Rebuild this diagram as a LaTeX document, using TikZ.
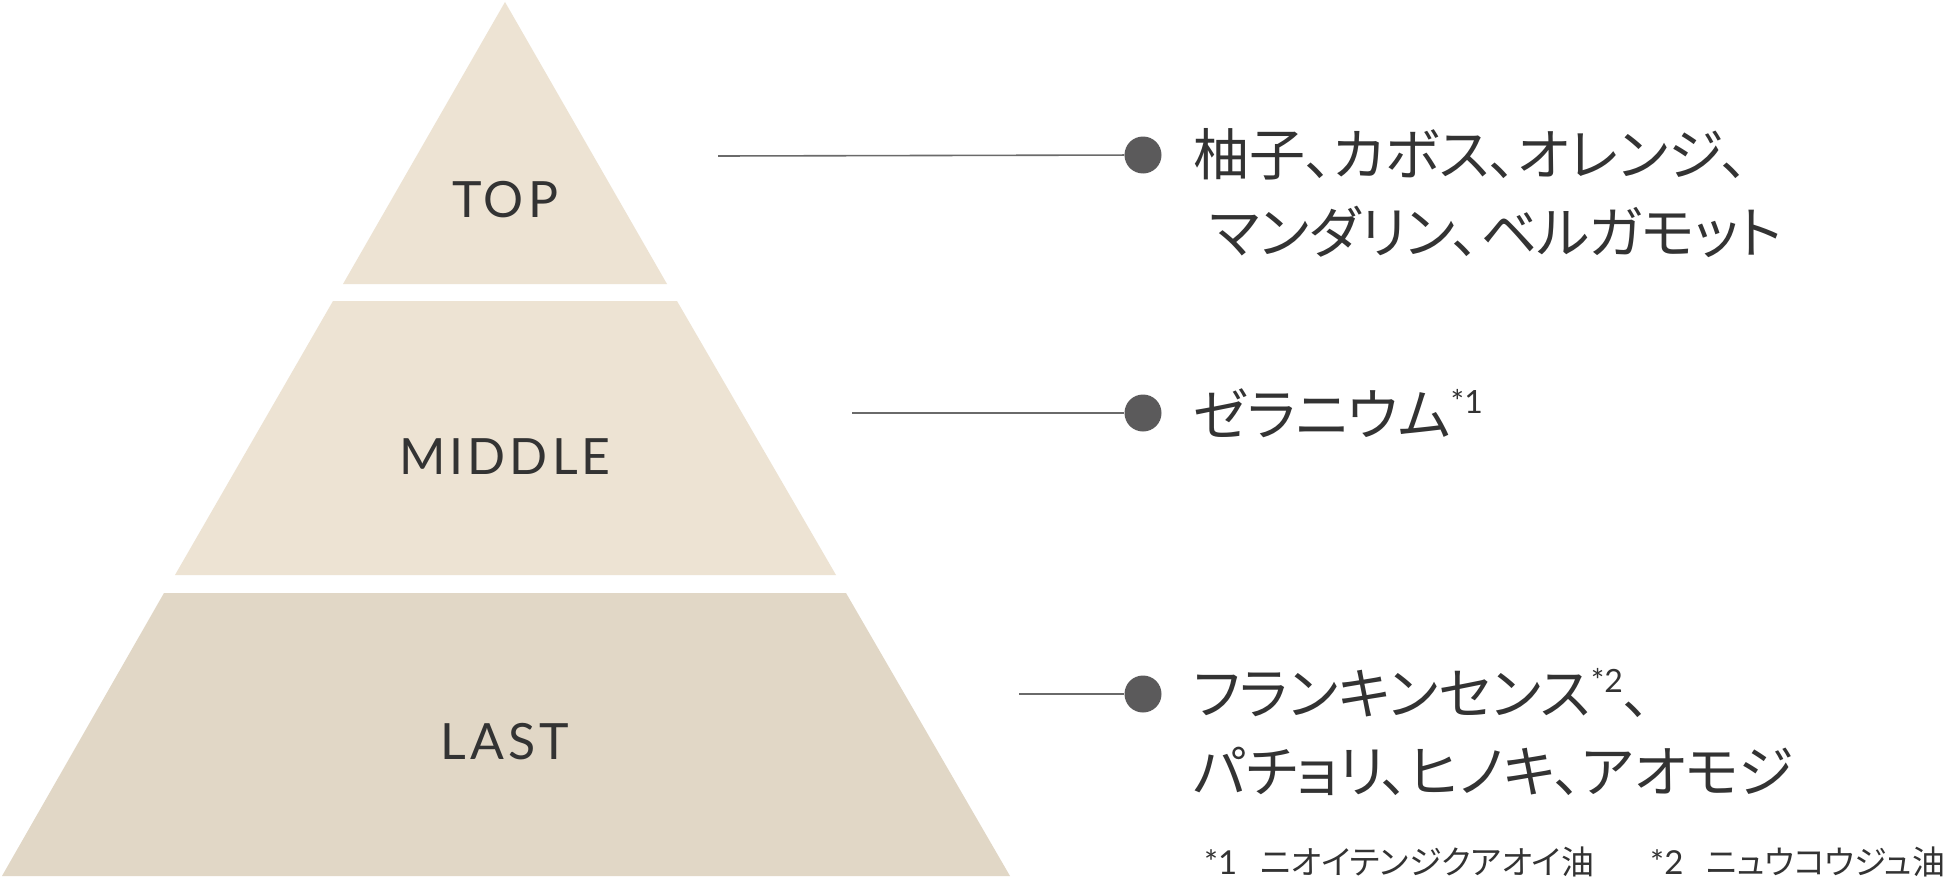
\documentclass[tikz,border=0pt]{standalone}
\usepackage{fontspec}
\setmainfont{Lato}
\newfontfamily\jpfam[RawFeature=+palt]{Noto Sans CJK JP}
\newfontfamily\tierfam[LetterSpace=8]{Lato}
\definecolor{beigeA}{HTML}{EDE3D3}
\definecolor{beigeB}{HTML}{E1D7C6}
\definecolor{ink}{HTML}{333333}
\definecolor{dotgray}{HTML}{5B5A5B}
\definecolor{linegray}{HTML}{6A6A6A}
\tikzset{
  tierlabel/.style={font=\tierfam\fontsize{50}{50}\selectfont, text=ink, inner sep=0},
  jptext/.style={font=\jpfam\fontsize{56}{60}\selectfont, text=ink, anchor=west, inner sep=0},
  notetext/.style={font=\jpfam\fontsize{33}{36}\selectfont, text=ink, anchor=west, inner sep=0},
  dotnode/.style={circle, fill=dotgray, minimum size=37pt, inner sep=0},
  leader/.style={draw=linegray, line width=1.6pt}
}
\newcommand\supmark[1]{\raisebox{0.38em}{\fontspec{Lato}\fontsize{32}{32}\selectfont #1}}
\newcommand\notemark[1]{{\fontspec{Lato}#1}\hspace{0.7em}}
\begin{document}
\begin{tikzpicture}[x=1pt,y=-1pt]
\useasboundingbox (0,0) rectangle (1950,891);
\fill[white] (0,0) rectangle (1950,891);
% tiers
\fill[beigeA] (505,2) -- (667,284) -- (343,284) -- cycle;
\fill[beigeA] (333,301) -- (677,301) -- (836,575) -- (175,575) -- cycle;
\fill[beigeB] (164,593) -- (846,593) -- (1010,876) -- (2,876) -- cycle;
\node[tierlabel] (ltop) at (505,200) {TOP};
\node[tierlabel] (lmid) at (505,457) {MIDDLE};
\node[tierlabel] (llast) at (505,742) {LAST};
% leaders
\coordinate (s1) at (718,156);
\coordinate (s2) at (852,413);
\coordinate (s3) at (1019,694);
\node[dotnode] (d1) at (1143,155) {};
\node[dotnode] (d2) at (1143,413) {};
\node[dotnode] (d3) at (1143,694) {};
\draw[leader] (s1) -- (d1);
\draw[leader] (s2) -- (d2);
\draw[leader] (s3) -- (d3);
% texts
\node[jptext] (t1a) at (1193,154) {柚子、カボス、オレンジ、};
\node[jptext] (t1b) at (1209,232) {マンダリン、ベルガモット};
\node[jptext] (t2) at (1193,413) {ゼラニウム\supmark{*1}};
\node[jptext] (t3a) at (1193,693) {フランキンセンス\supmark{*2}、};
\node[jptext] (t3b) at (1193,771) {パチョリ、ヒノキ、アオモジ};
\node[notetext] (n1) at (1204,862) {\notemark{*1}ニオイテンジクアオイ油};
\node[notetext] (n2) at (1650,862) {\notemark{*2}ニュウコウジュ油};
\end{tikzpicture}
\end{document}
